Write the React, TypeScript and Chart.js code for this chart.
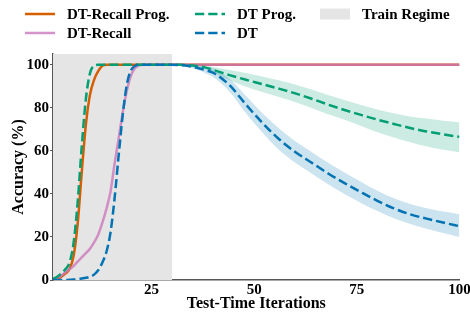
import React, { useEffect, useRef } from "react";
import { Chart, registerables } from "chart.js";

Chart.register(...registerables);

// ---- data ----
const iterations = [
  1, 2, 3, 4, 5, 6, 7, 8, 9, 10, 11, 12, 13, 14, 15, 16, 17, 18, 19, 20, 21, 22, 23, 24,
  26, 28, 30, 32, 34, 36, 38, 40, 44, 48, 52, 56, 60, 64, 68, 72, 76, 80, 84, 88, 92, 96, 100,
];

const dtRecallProg = [
  0, 0.5, 1.5, 3, 5, 11, 26, 50, 72, 86, 93, 97, 99.5, 100, 100, 100, 100, 100, 100, 100, 100, 100, 100, 100,
  100, 100, 100, 100, 100, 100, 100, 100, 100, 100, 100, 100, 100, 100, 100, 100, 100, 100, 100, 100, 100, 100, 100,
];

const dtRecall = [
  0, 1, 2, 3.5, 5, 6.5, 8.5, 10.5, 12.5, 14.5, 17.5, 21, 26.5, 33, 41, 54, 66, 78, 88, 95, 98.5, 99.7, 100, 100,
  100, 100, 100, 100, 100, 100, 100, 100, 100, 100, 100, 100, 100, 100, 100, 100, 100, 100, 100, 100, 100, 100, 100,
];

const dtProg = [
  0.5, 1.5, 3, 5, 8, 17, 36, 62, 84, 96, 99.5, 100, 100, 100, 100, 100, 100, 100, 100, 100, 100, 100, 100, 100,
  100, 100, 100, 100, 99.8, 99.4, 98.8, 97.6, 95.2, 93, 91, 88.9, 86.7, 84.2, 81.5, 79, 76.7, 74.5, 72.5, 70.6, 69, 67.7, 66.5,
];

const dt = [
  0, 0, 0, 0, 0.1, 0.2, 0.4, 0.7, 1, 1.5, 2.5, 4.5, 8, 13, 22, 38, 58, 77, 91, 97.5, 99.5, 100, 100, 100,
  100, 100, 100, 99.8, 99.4, 98.6, 97.6, 96.3, 90.5, 81.5, 73, 65.5, 59.5, 54.5, 49.5, 45, 40.8, 36.8, 33.3, 30.5, 28.5, 26.7, 25,
];

const bandIterations = [26, 28, 30, 32, 34, 36, 38, 40, 44, 48, 52, 56, 60, 64, 68, 72, 76, 80, 84, 88, 92, 96, 100];

const dtProgUpper = [100, 100, 100, 100, 100, 99.9, 99.6, 99, 97.6, 96.2, 94.6, 92.8, 90.8, 88.5, 86, 83.6, 81.3, 79.2, 77.5, 76, 75, 74, 73.3];
const dtProgLower = [100, 100, 100, 100, 99.6, 98.9, 98, 96.2, 92.8, 89.8, 87.4, 85, 82.6, 79.9, 77, 74.4, 71.6, 68.7, 66.2, 64, 62, 60.5, 59.3];

const dtUpper = [100, 100, 100, 100, 100, 99.6, 99, 98.3, 93.5, 85.5, 77.5, 70.5, 64.5, 59.5, 54.5, 50, 45.7, 41.5, 38, 35.3, 33.3, 31.8, 30.6];
const dtLower = [100, 100, 100, 99.6, 98.8, 97.8, 96.2, 94.3, 87.5, 77.5, 68.5, 60.5, 54.5, 49.5, 44.5, 40, 35.8, 32, 28.7, 26, 23.8, 21.8, 20];

const trainRegime = [1, 30];
const xTicks = [25, 50, 75, 100];
const yTicks = [0, 20, 40, 60, 80, 100];

// ---- style ----
const FONT = "'Liberation Serif', 'Times New Roman', serif";
const C_ORANGE = "#d55e00";
const C_PINK = "rgba(204,120,188,0.8)";
const C_GREEN = "#029e73";
const C_BLUE = "#0173b2";
const C_GREY = "#e5e5e5";
const DASH = [9.25, 4];

const toPts = (xs: number[], ys: number[]) => xs.map((x, i) => ({ x, y: ys[i] }));

const trainPlugin = {
  id: "trainRegime",
  beforeDatasetsDraw(chart: any) {
    const { ctx, chartArea, scales } = chart;
    const x0 = scales.x.getPixelForValue(trainRegime[0]);
    const x1 = scales.x.getPixelForValue(trainRegime[1]);
    ctx.save();
    ctx.fillStyle = C_GREY;
    ctx.fillRect(x0, chartArea.top, x1 - x0, chartArea.bottom - chartArea.top);
    ctx.restore();
  },
};

const legendItems = [
  { label: "DT-Recall Prog.", color: C_ORANGE, kind: "line", dash: [] as number[], col: 0, row: 0 },
  { label: "DT-Recall", color: C_PINK, kind: "line", dash: [] as number[], col: 0, row: 1 },
  { label: "DT Prog.", color: C_GREEN, kind: "line", dash: DASH, col: 1, row: 0 },
  { label: "DT", color: C_BLUE, kind: "line", dash: DASH, col: 1, row: 1 },
  { label: "Train Regime", color: C_GREY, kind: "box", dash: [] as number[], col: 2, row: 0 },
];
const legendColX = [25, 195, 320];
const legendRowY = [14, 33];

const legendPlugin = {
  id: "customLegend",
  afterDraw(chart: any) {
    const ctx = chart.ctx;
    ctx.save();
    ctx.font = `bold 15px ${FONT}`;
    ctx.textBaseline = "middle";
    ctx.textAlign = "left";
    for (const it of legendItems) {
      const x = legendColX[it.col];
      const y = legendRowY[it.row];
      if (it.kind === "box") {
        ctx.fillStyle = it.color;
        ctx.fillRect(x, y - 5.5, 30, 11);
      } else {
        ctx.strokeStyle = it.color;
        ctx.lineWidth = 2.5;
        ctx.setLineDash(it.dash);
        ctx.beginPath();
        ctx.moveTo(x, y);
        ctx.lineTo(x + 30, y);
        ctx.stroke();
        ctx.setLineDash([]);
      }
      ctx.fillStyle = "#000";
      ctx.fillText(it.label, x + 42, y + 1);
    }
    ctx.restore();
  },
};

export default function App() {
  const canvasRef = useRef<HTMLCanvasElement | null>(null);

  useEffect(() => {
    document.body.style.margin = "0";
    const canvas = canvasRef.current;
    if (!canvas) return;
    const tickFont = { family: FONT, size: 15, weight: "bold" as const };
    const titleFont = { family: FONT, size: 16, weight: "bold" as const };
    const lineBase = { pointRadius: 0, borderWidth: 2.5, fill: false, cubicInterpolationMode: "monotone" as const };
    const bandBase = { pointRadius: 0, borderWidth: 0, cubicInterpolationMode: "monotone" as const, order: 10 };

    const chart = new Chart(canvas, {
      type: "line",
      data: {
        datasets: [
          { ...bandBase, label: "dtU", data: toPts(bandIterations, dtUpper), fill: false, borderColor: "transparent" },
          { ...bandBase, label: "dtL", data: toPts(bandIterations, dtLower), fill: "-1", borderColor: "transparent", backgroundColor: "rgba(1,115,178,0.2)" },
          { ...bandBase, label: "dpU", data: toPts(bandIterations, dtProgUpper), fill: false, borderColor: "transparent" },
          { ...bandBase, label: "dpL", data: toPts(bandIterations, dtProgLower), fill: "-1", borderColor: "transparent", backgroundColor: "rgba(2,158,115,0.2)" },
          { ...lineBase, label: "DT-Recall Prog.", data: toPts(iterations, dtRecallProg), borderColor: C_ORANGE, order: 4 },
          { ...lineBase, label: "DT-Recall", data: toPts(iterations, dtRecall), borderColor: C_PINK, order: 3 },
          { ...lineBase, label: "DT Prog.", data: toPts(iterations, dtProg), borderColor: C_GREEN, borderDash: DASH, order: 2 },
          { ...lineBase, label: "DT", data: toPts(iterations, dt), borderColor: C_BLUE, borderDash: DASH, order: 1 },
        ] as any,
      },
      options: {
        responsive: false,
        animation: false,
        events: [],
        layout: { padding: { top: 54, right: 10.5, bottom: 0, left: 0 } },
        plugins: { legend: { display: false }, tooltip: { enabled: false } },
        scales: {
          x: {
            type: "linear",
            min: 1,
            max: 100,
            grid: { display: false, drawTicks: false, tickLength: 0 },
            border: { display: true, color: "#555", width: 1.5 },
            ticks: { font: tickFont, color: "#000", padding: 1, maxRotation: 0, autoSkip: false },
            afterBuildTicks: (s: any) => {
              s.ticks = xTicks.map((v) => ({ value: v }));
            },
            afterFit: (s: any) => {
              s.height = 32;
              s.paddingLeft = 0;
              s.paddingRight = 0;
            },
            title: {
              display: true,
              text: "Test-Time Iterations",
              font: titleFont,
              color: "#000",
              padding: { top: 0, bottom: -1.5 },
            },
          },
          y: {
            type: "linear",
            min: 0,
            max: 105,
            grid: { display: true, drawOnChartArea: false, drawTicks: true, tickLength: 3, color: "#555" },
            border: { display: true, color: "#555", width: 1.5 },
            ticks: { font: tickFont, color: "#000", padding: 1 },
            afterBuildTicks: (s: any) => {
              s.ticks = yTicks.map((v) => ({ value: v }));
            },
            afterFit: (s: any) => {
              s.width = 53;
              s.paddingTop = 0;
              s.paddingBottom = 0;
            },
            title: {
              display: true,
              text: "Accuracy (%)",
              font: titleFont,
              color: "#000",
              padding: { top: 9, bottom: 0 },
            },
          },
        },
      } as any,
      plugins: [trainPlugin, legendPlugin],
    });
    return () => chart.destroy();
  }, []);

  return (
    <div style={{ width: 470, height: 312 }}>
      <canvas ref={canvasRef} width={470} height={312} style={{ display: "block" }} />
    </div>
  );
}
